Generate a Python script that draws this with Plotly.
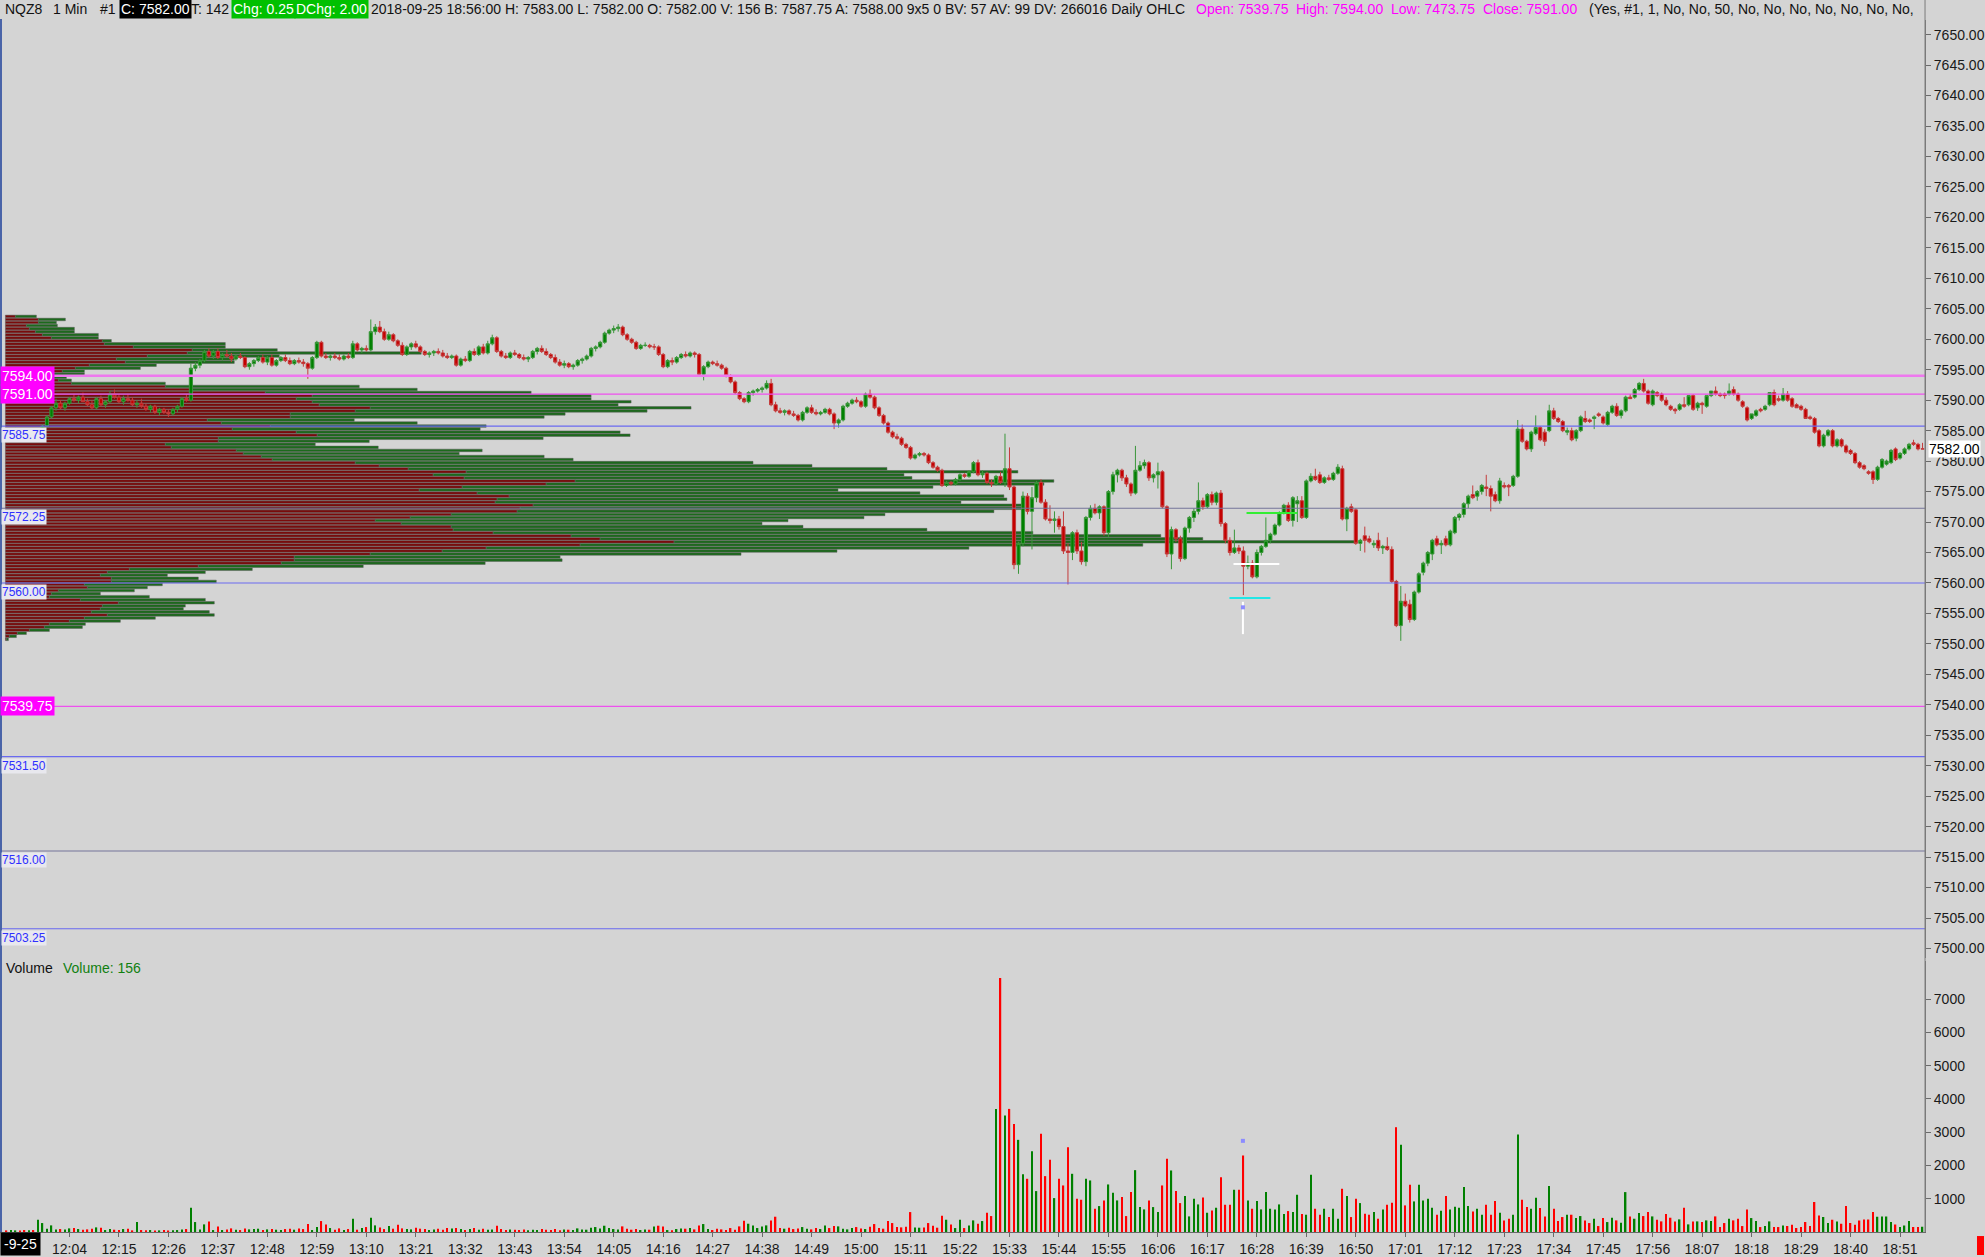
import plotly.graph_objects as go

# ---------------------------------------------------------------- data
SESSION_START = "11:50"          # first 1-minute bar

open_ = [
7584.50,7584.00,7584.50,7585.00,7584.50,7584.25,7585.00,7584.50,7584.75,7585.75,
7587.25,7588.75,7589.50,7588.75,7589.50,7590.25,7590.00,7590.50,7589.75,7589.25,
7588.75,7590.25,7589.25,7589.75,7591.00,7590.50,7589.75,7590.25,7590.00,7589.25,
7589.50,7589.00,7588.50,7589.00,7588.00,7588.50,7588.00,7587.75,7588.50,7589.00,
7590.25,7590.00,7595.25,7595.75,7596.50,7598.00,7597.25,7598.00,7597.00,7597.50,
7597.25,7596.75,7597.25,7597.00,7595.50,7596.00,7596.50,7597.00,7596.25,7597.00,
7595.75,7596.50,7597.00,7596.50,7596.00,7596.50,7596.25,7596.00,7595.25,7597.00,
7599.50,7597.25,7597.00,7597.25,7597.00,7596.75,7597.25,7597.00,7599.25,7598.25,
7598.50,7598.25,7601.25,7602.00,7601.25,7600.00,7600.75,7599.75,7599.00,7597.50,
7598.75,7599.25,7598.75,7598.00,7597.50,7597.75,7598.00,7597.75,7597.25,7597.00,
7597.25,7595.75,7596.75,7596.50,7598.00,7597.50,7598.75,7597.75,7599.25,7600.25,
7598.00,7597.25,7597.00,7597.75,7597.50,7597.00,7596.75,7597.00,7598.00,7598.50,
7598.00,7597.50,7597.00,7596.25,7595.75,7596.00,7595.50,7595.75,7596.50,7596.75,
7597.25,7598.50,7598.75,7599.50,7601.00,7601.50,7601.75,7602.00,7600.75,7600.00,
7599.50,7598.50,7599.00,7599.00,7598.75,7598.75,7597.50,7595.50,7596.50,7596.25,
7597.00,7597.50,7597.25,7597.75,7597.50,7594.25,7595.50,7596.25,7596.00,7595.75,
7595.25,7594.00,7593.00,7591.25,7590.25,7589.75,7591.25,7591.50,7591.75,7592.00,
7592.75,7589.25,7588.25,7588.00,7588.25,7587.75,7587.50,7586.75,7588.00,7588.75,
7588.00,7587.75,7588.00,7588.50,7587.75,7586.25,7586.75,7589.00,7589.50,7590.00,
7589.75,7589.00,7591.00,7590.50,7588.75,7587.50,7586.25,7584.75,7584.00,7583.75,
7582.75,7582.25,7580.50,7581.00,7581.25,7581.00,7579.75,7579.00,7578.50,7576.00,
7576.50,7576.25,7577.00,7577.75,7577.50,7578.25,7579.75,7577.75,7578.00,7576.50,
7576.25,7577.50,7576.50,7578.75,7575.75,7563.00,7566.50,7574.25,7571.75,7574.00,
7576.50,7573.25,7570.50,7570.25,7570.50,7569.25,7565.25,7565.00,7568.25,7565.25,
7563.50,7570.75,7572.25,7571.50,7572.50,7568.25,7575.00,7577.75,7578.50,7577.25,
7576.25,7574.75,7578.50,7579.25,7579.75,7577.25,7577.75,7578.25,7572.50,7564.75,
7568.75,7567.25,7564.00,7569.00,7570.75,7571.75,7573.50,7572.50,7574.50,7573.25,
7574.75,7569.75,7567.00,7565.00,7565.75,7565.25,7562.75,7563.25,7561.00,7565.00,
7566.00,7567.00,7568.00,7569.50,7571.50,7572.75,7570.25,7573.00,7573.50,7570.75,
7576.75,7577.50,7577.75,7576.50,7577.25,7577.00,7578.00,7578.75,7570.50,7572.50,
7572.00,7566.50,7567.75,7567.25,7566.25,7567.00,7565.75,7566.00,7565.50,7560.25,
7553.00,7557.00,7556.50,7554.00,7558.50,7561.75,7563.25,7564.75,7567.25,7566.25,
7567.25,7566.25,7568.25,7570.75,7571.25,7573.00,7574.50,7574.25,7575.00,7575.75,
7575.50,7574.50,7573.50,7576.00,7576.00,7576.00,7577.50,7585.25,7583.25,7582.00,
7584.50,7585.50,7584.75,7585.00,7588.25,7587.00,7586.50,7584.75,7585.00,7583.75,
7585.00,7587.00,7586.75,7587.00,7587.75,7587.25,7586.00,7588.00,7589.00,7587.50,
7588.25,7590.50,7590.50,7591.75,7592.75,7591.50,7589.25,7591.25,7591.00,7590.00,
7589.00,7588.50,7588.50,7589.25,7589.25,7590.75,7588.75,7589.50,7589.00,7590.75,
7591.50,7591.00,7591.00,7591.00,7591.75,7591.00,7589.75,7588.75,7587.00,7587.50,
7588.50,7588.50,7589.25,7591.25,7590.25,7590.00,7591.00,7590.25,7589.25,7589.00,
7588.50,7587.25,7587.00,7585.00,7582.50,7584.25,7585.00,7582.50,7583.50,7582.50,
7581.75,7581.25,7579.75,7579.25,7578.25,7578.25,7577.00,7579.00,7579.50,7579.75,
7582.00,7580.50,7581.25,7582.00,7583.00,7582.75,7582.00]

high = [
7585.25,7584.75,7585.50,7585.50,7585.00,7585.25,7585.50,7585.25,7586.00,7587.50,
7589.00,7590.25,7590.00,7589.75,7590.50,7591.00,7590.75,7591.25,7590.25,7590.00,
7590.50,7590.75,7590.00,7591.50,7591.75,7591.00,7590.75,7591.00,7590.50,7590.00,
7590.25,7589.50,7589.25,7589.25,7588.75,7588.75,7588.50,7588.75,7589.25,7590.50,
7591.00,7596.00,7596.25,7596.75,7598.25,7598.50,7598.25,7598.50,7597.75,7598.25,
7597.75,7597.50,7597.75,7597.25,7596.25,7596.75,7597.25,7597.50,7597.25,7597.50,
7596.75,7597.25,7597.50,7597.00,7596.75,7597.00,7596.75,7596.25,7597.25,7599.75,
7599.75,7597.75,7597.50,7597.75,7597.50,7597.50,7597.75,7599.75,7599.50,7598.75,
7599.00,7603.25,7602.50,7603.00,7601.75,7601.25,7601.00,7600.00,7599.50,7599.00,
7599.50,7599.75,7599.00,7598.25,7598.00,7598.25,7598.50,7598.25,7597.75,7597.50,
7597.50,7597.00,7597.25,7598.25,7598.50,7599.00,7599.25,7599.75,7600.75,7600.50,
7598.25,7597.75,7598.00,7598.25,7597.75,7597.50,7597.25,7598.25,7598.75,7599.00,
7598.50,7597.75,7597.50,7596.75,7596.50,7596.25,7596.00,7596.75,7597.00,7597.50,
7598.75,7599.00,7599.75,7601.25,7601.75,7602.25,7602.50,7602.25,7601.00,7600.25,
7599.75,7599.25,7599.50,7599.25,7599.25,7599.00,7597.75,7596.75,7597.00,7597.25,
7597.75,7598.00,7598.00,7598.00,7597.75,7595.75,7596.50,7596.50,7596.50,7596.00,
7595.50,7594.25,7593.25,7591.50,7590.50,7591.50,7591.75,7592.00,7592.25,7593.25,
7593.50,7589.75,7588.75,7588.50,7588.50,7588.25,7587.75,7588.25,7589.00,7589.25,
7588.50,7588.25,7588.75,7588.75,7588.00,7587.00,7589.25,7589.75,7590.25,7590.50,
7590.00,7591.25,7591.75,7590.75,7589.00,7587.75,7586.50,7585.00,7584.50,7584.00,
7583.00,7582.50,7581.25,7581.50,7581.50,7581.25,7580.00,7579.25,7578.75,7576.75,
7576.75,7577.25,7578.00,7578.00,7578.50,7580.00,7580.25,7578.50,7578.25,7577.00,
7577.75,7578.25,7584.50,7582.25,7576.00,7566.75,7575.00,7574.75,7575.75,7576.75,
7577.00,7573.75,7572.75,7571.75,7571.00,7571.75,7566.50,7568.50,7568.75,7566.75,
7571.00,7572.75,7573.00,7572.75,7572.75,7575.25,7578.25,7578.75,7578.75,7577.75,
7576.50,7582.50,7580.00,7580.25,7580.00,7578.00,7579.75,7578.50,7572.75,7569.25,
7569.00,7567.75,7569.25,7571.00,7572.25,7576.50,7574.00,7574.75,7575.00,7575.00,
7575.25,7570.00,7567.50,7568.75,7566.25,7566.00,7564.50,7563.75,7565.50,7566.25,
7570.75,7568.25,7569.75,7571.75,7573.00,7573.25,7574.25,7574.25,7574.25,7577.00,
7578.00,7578.75,7578.25,7577.50,7577.75,7578.25,7579.50,7579.25,7572.50,7573.00,
7572.25,7567.25,7569.25,7567.75,7567.00,7568.25,7566.25,7567.50,7566.00,7560.50,
7559.50,7558.25,7557.25,7558.75,7561.75,7563.50,7565.25,7567.25,7567.75,7567.00,
7567.75,7568.75,7571.00,7571.50,7573.25,7574.50,7576.00,7575.25,7576.25,7577.75,
7576.00,7575.00,7577.25,7576.50,7576.25,7577.75,7586.75,7586.00,7583.50,7585.00,
7587.50,7585.75,7585.25,7589.25,7588.75,7587.25,7586.75,7585.50,7585.50,7585.25,
7587.50,7588.25,7587.00,7587.50,7588.00,7587.50,7588.25,7589.25,7589.50,7588.50,
7590.75,7591.00,7592.00,7593.00,7593.50,7591.75,7591.75,7591.50,7591.25,7590.50,
7589.25,7588.75,7589.50,7590.50,7590.75,7591.00,7589.75,7589.75,7590.75,7591.50,
7592.25,7591.25,7591.25,7592.75,7592.25,7591.25,7590.00,7589.00,7587.75,7588.50,
7588.75,7589.25,7591.25,7591.75,7590.75,7592.00,7591.50,7590.50,7589.50,7589.25,
7588.75,7587.50,7587.25,7585.25,7584.50,7585.25,7585.25,7583.75,7583.75,7582.75,
7582.00,7581.50,7580.00,7579.50,7578.50,7578.50,7579.25,7580.50,7580.25,7582.00,
7582.25,7581.50,7582.25,7583.00,7583.50,7583.00,7583.00]

low = [
7583.75,7583.50,7584.25,7584.25,7583.75,7584.00,7584.25,7584.25,7584.50,7585.50,
7587.00,7588.25,7588.50,7588.25,7589.25,7589.75,7589.50,7589.75,7589.00,7588.50,
7588.50,7589.00,7588.75,7589.50,7590.25,7589.50,7589.25,7589.75,7589.00,7588.75,
7588.75,7588.25,7588.00,7587.75,7587.50,7587.75,7587.25,7587.50,7588.00,7588.75,
7589.75,7589.75,7594.75,7595.25,7596.25,7597.00,7596.75,7596.75,7596.50,7597.00,
7596.25,7596.50,7596.75,7595.25,7595.00,7595.50,7596.25,7596.00,7595.75,7595.50,
7595.50,7596.25,7596.25,7595.75,7595.75,7596.00,7595.50,7593.50,7595.00,7596.75,
7597.00,7596.75,7596.50,7596.75,7596.50,7596.50,7596.75,7596.75,7598.00,7597.75,
7598.00,7598.00,7600.75,7601.00,7599.75,7599.75,7599.50,7598.75,7597.25,7597.25,
7598.25,7598.50,7597.75,7597.25,7597.00,7597.25,7597.50,7597.00,7596.75,7596.75,
7595.50,7595.50,7596.25,7596.25,7597.25,7597.25,7597.50,7597.50,7599.00,7597.75,
7597.00,7596.75,7596.75,7597.25,7596.75,7596.50,7596.25,7596.75,7597.50,7597.75,
7597.25,7596.75,7596.00,7595.50,7595.25,7595.25,7595.00,7595.50,7596.00,7596.50,
7597.00,7598.00,7598.50,7599.25,7600.75,7601.00,7601.25,7600.50,7599.75,7599.25,
7598.25,7598.25,7598.75,7598.50,7598.25,7597.25,7595.25,7595.25,7595.75,7596.00,
7596.75,7597.00,7597.00,7597.00,7594.00,7593.25,7595.25,7595.75,7595.50,7595.00,
7593.75,7592.75,7591.00,7590.00,7589.50,7589.50,7590.75,7591.25,7591.25,7591.75,
7589.00,7588.00,7587.75,7587.50,7587.50,7587.25,7586.50,7586.50,7587.75,7587.75,
7587.50,7587.50,7587.75,7587.50,7585.25,7585.50,7586.50,7588.75,7589.25,7589.50,
7588.75,7588.75,7590.25,7588.50,7587.25,7586.00,7584.50,7583.75,7583.50,7582.50,
7582.00,7580.25,7580.25,7580.75,7580.75,7579.50,7578.75,7578.25,7575.75,7575.75,
7576.00,7576.00,7576.75,7577.25,7577.25,7578.00,7577.50,7577.25,7576.25,7575.75,
7576.00,7576.25,7575.75,7575.25,7562.25,7561.50,7566.00,7571.25,7565.50,7573.25,
7573.00,7570.25,7569.75,7568.25,7568.75,7564.75,7559.75,7563.75,7564.75,7563.00,
7562.75,7570.25,7571.25,7570.50,7567.75,7567.50,7574.50,7576.50,7576.75,7575.75,
7574.25,7574.50,7578.25,7578.75,7576.75,7576.50,7575.50,7572.25,7564.25,7562.25,
7566.75,7563.50,7563.75,7568.25,7570.00,7571.25,7572.00,7572.25,7572.75,7572.75,
7569.25,7566.50,7564.50,7564.75,7564.75,7558.00,7562.25,7560.75,7560.75,7564.50,
7565.75,7566.50,7567.75,7569.25,7571.25,7570.00,7569.25,7570.00,7570.50,7570.50,
7576.50,7576.75,7576.25,7576.25,7576.75,7576.75,7577.75,7570.25,7568.50,7571.50,
7566.25,7565.25,7565.00,7566.50,7565.75,7565.25,7564.75,7565.25,7560.00,7552.75,
7550.50,7556.00,7553.50,7553.75,7558.25,7561.25,7562.75,7563.75,7566.00,7564.75,
7566.00,7566.00,7568.00,7570.25,7570.75,7572.25,7573.75,7573.50,7574.50,7574.25,
7571.75,7573.25,7573.00,7575.50,7574.25,7575.75,7577.25,7583.00,7581.75,7581.50,
7584.25,7583.25,7582.50,7584.75,7586.75,7586.25,7584.75,7584.25,7583.25,7583.25,
7584.75,7586.25,7586.25,7585.25,7587.25,7586.00,7585.75,7587.75,7587.25,7587.00,
7588.00,7590.25,7590.25,7591.50,7591.25,7589.25,7589.00,7590.50,7589.75,7589.00,
7588.25,7587.75,7588.25,7588.75,7589.00,7588.25,7588.25,7587.75,7588.75,7590.50,
7590.75,7590.50,7590.25,7590.75,7590.75,7589.75,7588.75,7586.50,7586.75,7587.25,
7588.00,7588.25,7589.00,7589.00,7589.75,7589.75,7589.75,7588.75,7588.75,7588.25,
7587.00,7586.75,7584.50,7582.25,7582.25,7584.00,7582.25,7582.25,7582.25,7581.25,
7581.00,7579.50,7578.75,7578.50,7577.75,7576.25,7576.75,7578.75,7579.25,7579.50,
7580.00,7580.25,7581.00,7581.75,7582.50,7581.75,7582.00]

close_ = [
7584.00,7584.50,7585.00,7584.50,7584.25,7585.00,7584.50,7584.75,7585.75,7587.25,
7588.75,7589.50,7588.75,7589.50,7590.25,7590.00,7590.50,7589.75,7589.25,7588.75,
7590.25,7589.25,7589.75,7591.00,7590.50,7589.75,7590.25,7590.00,7589.25,7589.50,
7589.00,7588.50,7589.00,7588.00,7588.50,7588.00,7587.75,7588.50,7589.00,7590.25,
7590.00,7595.25,7595.75,7596.50,7598.00,7597.25,7598.00,7597.00,7597.50,7597.25,
7596.75,7597.25,7597.00,7595.50,7596.00,7596.50,7597.00,7596.25,7597.00,7595.75,
7596.50,7597.00,7596.50,7596.00,7596.50,7596.25,7596.00,7595.25,7597.00,7599.50,
7597.25,7597.00,7597.25,7597.00,7596.75,7597.25,7597.00,7599.25,7598.25,7598.50,
7598.25,7601.25,7602.00,7601.25,7600.00,7600.75,7599.75,7599.00,7597.50,7598.75,
7599.25,7598.75,7598.00,7597.50,7597.75,7598.00,7597.75,7597.25,7597.00,7597.25,
7595.75,7596.75,7596.50,7598.00,7597.50,7598.75,7597.75,7599.25,7600.25,7598.00,
7597.25,7597.00,7597.75,7597.50,7597.00,7596.75,7597.00,7598.00,7598.50,7598.00,
7597.50,7597.00,7596.25,7595.75,7596.00,7595.50,7595.75,7596.50,7596.75,7597.25,
7598.50,7598.75,7599.50,7601.00,7601.50,7601.75,7602.00,7600.75,7600.00,7599.50,
7598.50,7599.00,7599.00,7598.75,7598.75,7597.50,7595.50,7596.50,7596.25,7597.00,
7597.50,7597.25,7597.75,7597.50,7594.25,7595.50,7596.25,7596.00,7595.75,7595.25,
7594.00,7593.00,7591.25,7590.25,7589.75,7591.25,7591.50,7591.75,7592.00,7592.75,
7589.25,7588.25,7588.00,7588.25,7587.75,7587.50,7586.75,7588.00,7588.75,7588.00,
7587.75,7588.00,7588.50,7587.75,7586.25,7586.75,7589.00,7589.50,7590.00,7589.75,
7589.00,7591.00,7590.50,7588.75,7587.50,7586.25,7584.75,7584.00,7583.75,7582.75,
7582.25,7580.50,7581.00,7581.25,7581.00,7579.75,7579.00,7578.50,7576.00,7576.50,
7576.25,7577.00,7577.75,7577.50,7578.25,7579.75,7577.75,7578.00,7576.50,7576.25,
7577.50,7576.50,7578.75,7575.75,7563.00,7566.50,7574.25,7571.75,7574.00,7576.50,
7573.25,7570.50,7570.25,7570.50,7569.25,7565.25,7565.00,7568.25,7565.25,7563.50,
7570.75,7572.25,7571.50,7572.50,7568.25,7575.00,7577.75,7578.50,7577.25,7576.25,
7574.75,7578.50,7579.25,7579.75,7577.25,7577.75,7578.25,7572.50,7564.75,7568.75,
7567.25,7564.00,7569.00,7570.75,7571.75,7573.50,7572.50,7574.50,7573.25,7574.75,
7569.75,7567.00,7565.00,7565.75,7565.25,7562.75,7563.25,7561.00,7565.00,7566.00,
7567.00,7568.00,7569.50,7571.50,7572.75,7570.25,7574.00,7573.50,7570.75,7576.75,
7577.50,7577.00,7576.50,7577.25,7577.00,7578.00,7579.00,7570.50,7572.25,7571.75,
7566.50,7567.00,7567.00,7566.75,7566.50,7565.75,7566.00,7565.50,7560.25,7553.00,
7557.00,7556.25,7554.00,7558.50,7561.50,7563.25,7565.00,7567.00,7566.25,7566.50,
7566.25,7568.50,7570.75,7571.25,7573.00,7574.25,7574.00,7575.00,7576.00,7575.50,
7574.25,7573.50,7576.75,7575.75,7575.75,7577.50,7585.25,7583.25,7582.00,7584.75,
7585.50,7583.50,7583.25,7588.25,7587.00,7586.50,7585.00,7585.00,7583.50,7585.00,
7587.25,7586.50,7586.50,7587.25,7587.50,7586.25,7588.00,7589.00,7587.50,7588.25,
7590.50,7590.25,7591.75,7592.75,7591.50,7589.50,7591.50,7590.75,7590.00,7589.25,
7588.50,7588.25,7589.25,7589.00,7590.75,7588.50,7589.50,7589.25,7590.75,7591.50,
7591.00,7590.75,7590.75,7591.50,7591.00,7590.00,7589.00,7586.75,7587.75,7588.25,
7588.25,7589.00,7591.25,7589.25,7590.00,7591.00,7590.00,7589.00,7588.75,7588.50,
7587.00,7587.00,7584.75,7582.50,7584.25,7585.00,7582.50,7583.50,7582.50,7581.50,
7581.25,7579.75,7579.00,7578.75,7578.00,7577.00,7579.00,7580.25,7580.00,7581.75,
7580.25,7581.25,7582.00,7582.75,7582.75,7582.00,7582.00]

volume = [
50,60,50,40,60,50,60,370,270,100,
200,80,90,80,110,120,90,70,80,100,
140,130,60,90,70,60,90,100,50,300,
60,50,60,40,50,60,40,50,60,80,
90,730,300,80,230,320,60,170,60,80,
110,70,60,110,80,90,100,60,80,90,
70,60,90,100,70,110,90,240,60,150,
330,230,120,70,110,60,90,400,70,120,
150,430,200,140,90,180,100,220,110,90,
80,130,100,90,60,80,100,70,120,110,
120,90,60,90,120,70,100,70,80,190,
90,60,80,70,60,80,50,70,60,90,
70,60,90,50,80,70,60,110,80,70,
130,150,110,190,120,90,80,170,100,70,
90,60,80,70,170,190,170,60,50,90,
110,100,120,80,200,240,90,60,100,80,
60,120,70,170,340,250,200,120,170,200,
350,460,120,100,130,90,110,150,100,80,
120,90,200,120,180,170,100,80,120,150,
110,90,160,240,120,100,330,270,150,140,
160,600,140,130,140,270,190,130,490,370,
230,120,370,
120,200,350,250,330,580,480,3700,7630,3500,
3700,3250,2770,1740,1600,2430,1230,2950,1680,2170,
1020,1600,1400,2550,1750,1000,970,1600,1550,700,
780,950,1430,1180,950,1050,480,1200,1860,750,
680,950,750,600,1400,2200,1850,1230,870,1080,
470,1000,830,1040,580,650,730,1650,820,820,
1270,1270,2300,950,700,930,680,1200,700,680,
830,540,630,600,1120,540,520,1720,700,520,
700,450,700,400,1300,1080,450,1000,870,550,
520,600,400,680,820,880,3150,2620,800,1420,
920,1420,950,1000,730,520,640,1080,680,760,
730,1350,780,620,700,520,820,520,930,580,
350,400,520,2930,970,750,700,1030,720,470,
1380,700,330,450,520,520,420,480,350,270,
400,180,420,300,430,350,280,1200,470,400,
570,480,600,470,370,320,540,430,320,380,
730,230,320,320,300,350,330,470,150,270,
400,350,400,180,680,420,330,150,180,320,
150,150,200,180,220,120,150,300,180,900,
500,450,270,370,320,250,780,270,220,350,
380,380,600,460,470,470,300,230,150,200,
330,150,150,156]

time_labels = ["12:04","12:15","12:26","12:37","12:48","12:59","13:10","13:21",
               "13:32","13:43","13:54","14:05","14:16","14:27","14:38","14:49",
               "15:00","15:11","15:22","15:33","15:44","15:55","16:06","16:17",
               "16:28","16:39","16:50","17:01","17:12","17:23","17:34","17:45",
               "17:56","18:07","18:18","18:29","18:40","18:51"]

price_ticks = [7500 + 5 * i for i in range(31)]
volume_ticks = [1000, 2000, 3000, 4000, 5000, 6000, 7000]

# volume profile (0.5 pt rows from the top level down)
profile_top = 7603.75
profile_step = 0.5
profile_sell = [
10,33,33,21,24,30,37,46,97,99,
128,187,182,142,111,120,84,70,57,48,
48,53,66,160,187,260,307,291,307,314,
365,350,285,285,202,216,265,227,291,312,
213,213,160,166,231,238,256,267,350,374,
403,461,428,459,570,541,457,414,472,504,
492,490,528,515,512,446,405,370,396,446,
448,488,566,595,669,575,481,437,365,289,
289,276,193,124,102,95,106,106,79,82,
53,46,44,75,113,97,95,86,102,79,
64,44,39,24,12,4,1]
profile_buy = [
21,27,18,31,45,39,56,47,9,121,
92,85,234,132,118,109,67,65,22,31,
13,13,94,194,225,266,279,295,319,299,
321,292,275,254,147,196,216,248,324,313,
325,151,150,207,246,216,283,301,398,433,
479,552,471,448,479,498,471,419,443,495,
510,466,489,504,477,434,454,413,361,352,
474,540,590,603,681,563,483,395,371,266,
268,204,165,123,98,67,87,105,78,60,
76,49,100,125,96,83,83,118,107,71,
51,36,38,20,9,7,2]

# horizontal reference levels: (price, label, kind)
levels = [(7594.00, "7594.00", "mag_thick"), (7591.00, "7591.00", "mag"),
          (7585.75, "7585.75", "blue"), (7572.25, "7572.25", "grey"),
          (7560.00, "7560.00", "blue"), (7539.75, "7539.75", "mag"),
          (7531.50, "7531.50", "blue"), (7516.00, "7516.00", "grey"),
          (7503.25, "7503.25", "blue")]

# small trade-marker segments: (from minute, to minute, price, colour)
trade_marks = [(275.7, 287.0, 7571.50, "#33ee33"),
               (272.8, 283.0, 7563.10, "#ffffff"),
               (271.9, 281.0, 7557.55, "#22e6e6")]
trade_stem = (274.9, 7551.60, 7556.90)
vol_marker = (274.9, 2740)

assert len(open_) == len(high) == len(low) == len(close_) == len(volume) == 427
assert len(profile_sell) == len(profile_buy) == 107

# ---------------------------------------------------------------- layout helpers
W, H = 1985, 1257
AXIS_PX = 1926
BG = "#d4d4d4"
FONT = "Liberation Sans, Arial, sans-serif"


def fx(px):
    return px / W


def fy(py):
    return 1 - py / H


start_h, start_m = (int(v) for v in SESSION_START.split(":"))
start_min = start_h * 60 + start_m
tick_pos = [int(t[:2]) * 60 + int(t[3:]) - start_min for t in time_labels]

PX_PER_MIN = 4.5
X0_PX = 6.5
x_range = [(0 - X0_PX) / PX_PER_MIN, (AXIS_PX - X0_PX) / PX_PER_MIN]
minutes = list(range(len(close_)))

profile_levels = [profile_top - profile_step * i for i in range(len(profile_sell))]

fig = go.Figure()

# volume profile (base subplot, drawn under candles)
fig.add_trace(go.Bar(
    y=profile_levels, x=profile_sell, base=0, orientation="h",
    width=profile_step * 0.84, xaxis="x", yaxis="y",
    marker=dict(color="#7a0b0b", line=dict(color="#5c5c5c", width=0.5)),
    hoverinfo="skip", showlegend=False))
fig.add_trace(go.Bar(
    y=profile_levels, x=profile_buy, base=profile_sell, orientation="h",
    width=profile_step * 0.84, xaxis="x", yaxis="y",
    marker=dict(color="#1c6a1c", line=dict(color="#5c5c5c", width=0.5)),
    hoverinfo="skip", showlegend=False))

# candles
fig.add_trace(go.Candlestick(
    x=minutes, open=open_, high=high, low=low, close=close_,
    xaxis="x2", yaxis="y",
    increasing=dict(fillcolor="#008000", line=dict(color="#3a963a", width=1)),
    decreasing=dict(fillcolor="#c40000", line=dict(color="#c43c3c", width=1)),
    whiskerwidth=0, hoverinfo="skip", showlegend=False))

# trade markers
for m0, m1, p, col in trade_marks:
    fig.add_trace(go.Scatter(x=[m0, m1], y=[p, p], mode="lines", xaxis="x2", yaxis="y",
                             line=dict(color=col, width=2), hoverinfo="skip",
                             showlegend=False))
fig.add_trace(go.Scatter(x=[trade_stem[0], trade_stem[0]], y=[trade_stem[1], trade_stem[2]],
                         mode="lines", xaxis="x2", yaxis="y",
                         line=dict(color="#ffffff", width=2), hoverinfo="skip",
                         showlegend=False))
fig.add_trace(go.Scatter(x=[trade_stem[0]], y=[7556.0], mode="markers", xaxis="x2", yaxis="y",
                         marker=dict(symbol="square", size=4, color="#8c8cff"),
                         hoverinfo="skip", showlegend=False))

# volume bars
vol_colors = ["#008000" if c >= o else "#ff0000" for o, c in zip(open_, close_)]
fig.add_trace(go.Bar(x=minutes, y=volume, xaxis="x3", yaxis="y2", width=0.32,
                     marker=dict(color=vol_colors, line=dict(width=0)),
                     hoverinfo="skip", showlegend=False))
fig.add_trace(go.Scatter(x=[vol_marker[0]], y=[vol_marker[1]], mode="markers",
                         xaxis="x3", yaxis="y2",
                         marker=dict(symbol="square", size=4, color="#8c8cff"),
                         hoverinfo="skip", showlegend=False))

shapes = []
line_style = {"mag_thick": ("#ee78ee", 2.5), "mag": ("#ee50ee", 1.2),
              "blue": ("#6a6af0", 1.1), "grey": ("#74749a", 1.1)}
for p, lab, kind in levels:
    col, wd = line_style[kind]
    shapes.append(dict(type="line", xref="paper", yref="y", x0=0, x1=fx(AXIS_PX),
                       y0=p, y1=p, line=dict(color=col, width=wd), layer="above"))
# right axis line through whole height, left border
shapes.append(dict(type="line", xref="paper", yref="paper", x0=fx(AXIS_PX), x1=fx(AXIS_PX),
                   y0=fy(1234), y1=1, line=dict(color="#7a7a7a", width=1)))
shapes.append(dict(type="line", xref="paper", yref="paper", x0=fx(1), x1=fx(1),
                   y0=fy(1234), y1=fy(19), line=dict(color="#4a64a8", width=2)))
shapes.append(dict(type="rect", xref="paper", yref="paper", x0=fx(1978), x1=1,
                   y0=0, y1=fy(1238), fillcolor="#ff0000", line=dict(width=0)))

ann = []


def txt(x_px, y_px, s, color="#111111", bg=None, size=14, xanchor="left", pad=1):
    d = dict(xref="paper", yref="paper", x=fx(x_px), y=fy(y_px), text=s, showarrow=False,
             xanchor=xanchor, yanchor="middle", font=dict(family=FONT, size=size, color=color),
             borderpad=pad)
    if bg:
        d["bgcolor"] = bg
    ann.append(d)


HY = 9.5
txt(3, HY, "NQZ8")
txt(51, HY, "1 Min")
txt(98, HY, "#1")
txt(119, HY, "C: 7582.00", color="#ffffff", bg="#000000")
txt(189, HY, "T: 142")
txt(231, HY, "Chg: 0.25", color="#ffffff", bg="#00c000")
txt(294, HY, "DChg: 2.00", color="#ffffff", bg="#00c000")
txt(369, HY, "2018-09-25 18:56:00 H: 7583.00 L: 7582.00 O: 7582.00 V: 156 B: 7587.75 "
             "A: 7588.00 9x5 0 BV: 57 AV: 99 DV: 266016 Daily OHLC")
txt(1195, HY, "Open: 7539.75", color="#ff00ff")
txt(1295, HY, "High: 7594.00", color="#ff00ff")
txt(1390, HY, "Low: 7473.75", color="#ff00ff")
txt(1482, HY, "Close: 7591.00", color="#ff00ff")
txt(1588, HY, "(Yes, #1, 1, No, No, 50, No, No, No, No, No, No, No,")

# level labels on the left
for p, lab, kind in levels:
    if kind.startswith("mag"):
        ann.append(dict(xref="paper", yref="y", x=0, y=p, text=lab, showarrow=False,
                        xanchor="left", yanchor="middle", bgcolor="#ff00ff",
                        font=dict(family=FONT, size=14, color="#ffffff"), borderpad=1))
    else:
        ann.append(dict(xref="paper", yref="y", x=fx(1), y=p, text=lab, showarrow=False,
                        xanchor="left", yanchor="top", bgcolor="#e8e8ee",
                        font=dict(family=FONT, size=12, color="#2f2fff"), borderpad=0,
                        yshift=-1))

# last price label on the axis
ann.append(dict(xref="paper", yref="y", x=fx(AXIS_PX + 3), y=close_[-1],
                text="%.2f" % close_[-1], showarrow=False, xanchor="left", yanchor="middle",
                bgcolor="#ffffff", font=dict(family=FONT, size=14, color="#000000"),
                borderpad=0))

# volume panel title
txt(4, 970, "Volume")
txt(61, 970, "Volume: %d" % volume[-1], color="#108010")
# partial date stamp at bottom left
txt(0, 1246, "-9-25", color="#ffffff", bg="#000000", pad=3)

tickfont = dict(family=FONT, size=14, color="#1a1a1a")
fig.update_layout(
    width=W, height=H, margin=dict(l=0, r=0, t=0, b=0),
    paper_bgcolor=BG, plot_bgcolor=BG, barmode="overlay",
    boxgap=0.22, boxgroupgap=0.1, showlegend=False,
    font=dict(family=FONT),
    xaxis=dict(domain=[0, fx(AXIS_PX)], range=[-5.4, AXIS_PX - 5.4], visible=False,
               anchor="y", fixedrange=True),
    xaxis2=dict(overlaying="x", range=x_range, visible=False, anchor="y",
                rangeslider=dict(visible=False), fixedrange=True),
    yaxis=dict(domain=[fy(960), fy(20)], range=[7498.36, 7652.41], side="right",
               anchor="x", tickvals=price_ticks, ticktext=["%.2f" % v for v in price_ticks],
               ticks="outside", ticklen=5, tickcolor="#6a6a6a", showline=True,
               linecolor="#7a7a7a", showgrid=False, zeroline=False, tickfont=tickfont,
               fixedrange=True),
    xaxis3=dict(domain=[0, fx(AXIS_PX)], range=x_range, anchor="y2", tickvals=tick_pos,
                ticktext=time_labels, ticks="outside", ticklen=4, tickcolor="#6a6a6a",
                showline=True, linecolor="#6a6a6a", showgrid=False, zeroline=False,
                tickfont=tickfont, fixedrange=True),
    yaxis2=dict(domain=[fy(1234), fy(963)], range=[0, 8130], side="right", anchor="x3",
                tickvals=volume_ticks, ticktext=[str(v) for v in volume_ticks],
                ticks="outside", ticklen=5, tickcolor="#6a6a6a", showline=True,
                linecolor="#7a7a7a", showgrid=False, zeroline=False, tickfont=tickfont,
                fixedrange=True),
    shapes=shapes, annotations=ann,
)

fig.write_html("out.html", include_plotlyjs=True, config={"displayModeBar": False},
               post_script="document.body.style.margin='0';document.body.style.overflow='hidden';")
